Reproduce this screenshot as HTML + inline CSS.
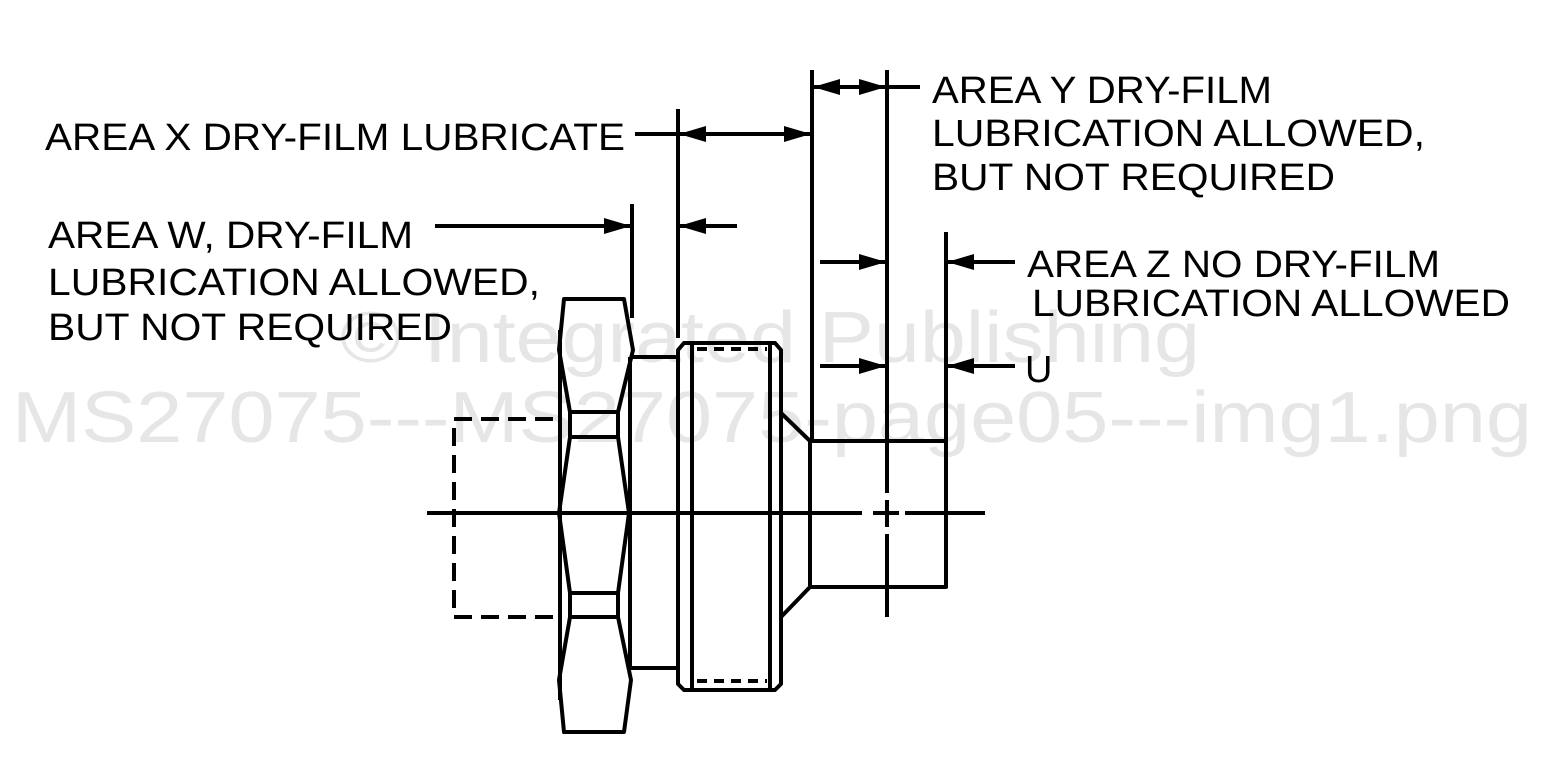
<!DOCTYPE html>
<html><head><style>html,body{margin:0;padding:0;background:#fff}svg{display:block}</style></head>
<body>
<svg width="1545" height="761" viewBox="0 0 1545 761" xmlns="http://www.w3.org/2000/svg">
<g font-family="Liberation Sans, Arial, sans-serif" fill="#e6e6e6" font-size="72">
<text x="340" y="362" textLength="860" lengthAdjust="spacingAndGlyphs">© Integrated Publishing</text>
<text x="12" y="442" textLength="1520" lengthAdjust="spacingAndGlyphs">MS27075---MS27075-page05---img1.png</text>
</g>
<g stroke="#000" stroke-width="4" fill="none" stroke-linejoin="round">
<path d="M553 419 H454 V617 H553" stroke-dasharray="18,9"/>
<path d="M564 299 H624 L633 350 L618 412 L618 437 L629 513 L618 593 L618 617 L631 680 L624 732 H564 L559 680 L570 617 L570 593 L559 513 L570 437 L570 412 L559 350 Z"/>
<line x1="570" y1="412" x2="618" y2="412"/><line x1="570" y1="437" x2="618" y2="437"/>
<line x1="570" y1="593" x2="618" y2="593"/><line x1="570" y1="617" x2="618" y2="617"/>
<line x1="630" y1="357" x2="630" y2="668"/>
<line x1="560" y1="330" x2="560" y2="700"/>
<path d="M630 357 H678 M630 668 H678"/>
<path d="M684 343 H775 L781 350 V684 L775 690 H684 L678 684 V350 Z"/>
<line x1="692" y1="345" x2="692" y2="688"/><line x1="770" y1="345" x2="770" y2="688"/>
<path d="M697 349 H767 M697 681 H767" stroke-dasharray="10,7"/>
<path d="M781 413 L810 441 H946 V587 H810 L781 617"/>
<line x1="810" y1="441" x2="810" y2="587"/>
<line x1="427" y1="513" x2="862" y2="513"/>
<line x1="873" y1="513" x2="899" y2="513"/>
<line x1="905" y1="513" x2="985" y2="513"/>
<line x1="632" y1="204" x2="632" y2="318"/>
<line x1="678" y1="109" x2="678" y2="338"/>
<line x1="812" y1="70" x2="812" y2="440"/>
<line x1="887" y1="70" x2="887" y2="493"/>
<line x1="887" y1="500" x2="887" y2="527"/>
<line x1="887" y1="534" x2="887" y2="617"/>
<line x1="946" y1="232" x2="946" y2="441"/>
<line x1="635" y1="134" x2="812" y2="134"/>
<line x1="812" y1="87" x2="920" y2="87"/>
<line x1="435" y1="226" x2="632" y2="226"/>
<line x1="678" y1="226" x2="737" y2="226"/>
<line x1="820" y1="262" x2="887" y2="262"/>
<line x1="820" y1="366" x2="887" y2="366"/>
<line x1="946" y1="262" x2="1015" y2="262"/>
<line x1="946" y1="366" x2="1015" y2="366"/>
</g>
<g fill="#000">
<polygon points="679,134 706,126 706,142"/>
<polygon points="811,134 784,126 784,142"/>
<polygon points="813,87 840,79 840,95"/>
<polygon points="886,87 859,79 859,95"/>
<polygon points="631,226 604,218 604,234"/>
<polygon points="679,226 706,218 706,234"/>
<polygon points="886,262 859,254 859,270"/>
<polygon points="886,366 859,358 859,374"/>
<polygon points="947,262 974,254 974,270"/>
<polygon points="947,366 974,358 974,374"/>
</g>
<g font-family="Liberation Sans, Arial, sans-serif" fill="#000" font-size="38">
<text x="45" y="150" textLength="580" lengthAdjust="spacingAndGlyphs">AREA X DRY-FILM LUBRICATE</text>
<text x="932" y="103" textLength="340" lengthAdjust="spacingAndGlyphs">AREA Y DRY-FILM</text>
<text x="932" y="146" textLength="493" lengthAdjust="spacingAndGlyphs">LUBRICATION ALLOWED,</text>
<text x="932" y="190" textLength="403" lengthAdjust="spacingAndGlyphs">BUT NOT REQUIRED</text>
<text x="48" y="248" textLength="365" lengthAdjust="spacingAndGlyphs">AREA W, DRY-FILM</text>
<text x="48" y="295" textLength="492" lengthAdjust="spacingAndGlyphs">LUBRICATION ALLOWED,</text>
<text x="48" y="340" textLength="404" lengthAdjust="spacingAndGlyphs">BUT NOT REQUIRED</text>
<text x="1027" y="277" textLength="413" lengthAdjust="spacingAndGlyphs">AREA Z NO DRY-FILM</text>
<text x="1032" y="316" textLength="478" lengthAdjust="spacingAndGlyphs">LUBRICATION ALLOWED</text>
<text x="1025" y="382">U</text>
</g>
</svg>
</body></html>
